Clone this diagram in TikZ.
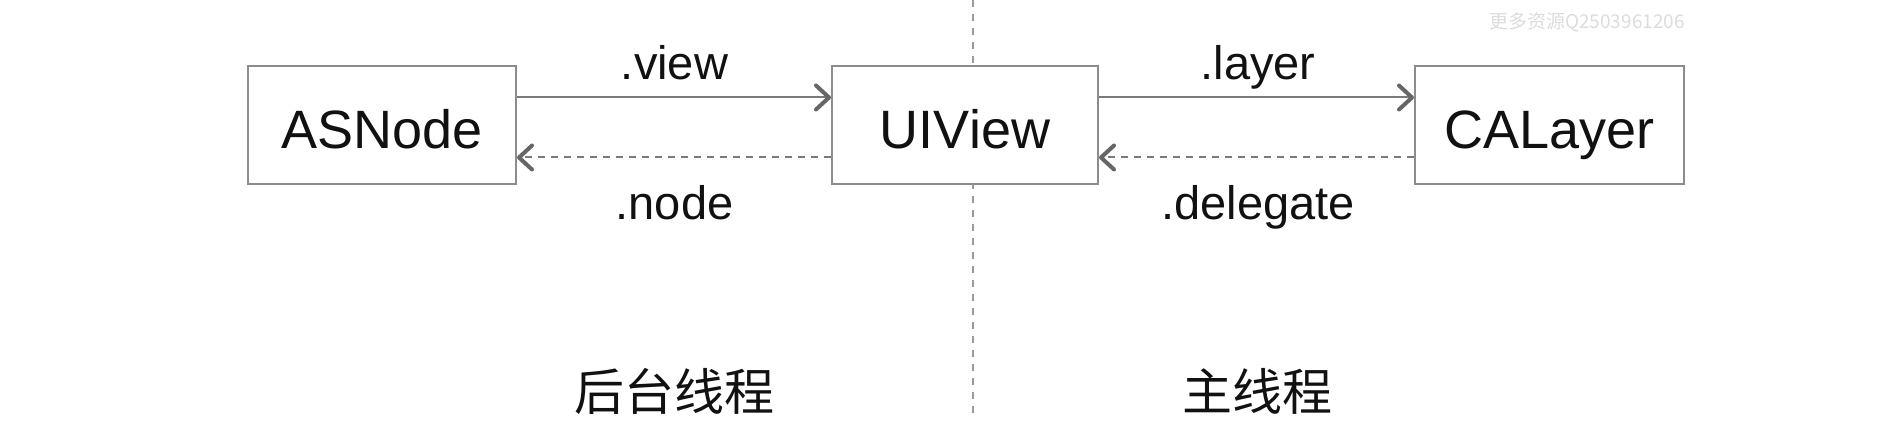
\documentclass[tikz,border=0pt]{standalone}
\usepackage{fontspec}
\setmainfont{Liberation Sans}
\newfontfamily\cjk{Noto Sans CJK SC}
\usetikzlibrary{arrows.meta}
\definecolor{boxgray}{HTML}{8C8C8C}
\definecolor{linegray}{HTML}{7A7A7A}
\definecolor{tipgray}{HTML}{666666}
\definecolor{divgray}{HTML}{9A9A9A}
\definecolor{wmgray}{HTML}{DCDCDC}
\definecolor{txt}{HTML}{111111}
\tikzset{
  objbox/.style={draw=boxgray, line width=2pt, fill=white, minimum height=118pt,
    inner sep=0pt, text=txt, font=\fontsize{54}{60}\selectfont,
    text height=47pt, text depth=0pt},
  reflabel/.style={text=txt, font=\fontsize{47}{52}\selectfont, inner sep=0pt, anchor=base},
  threadlabel/.style={text=txt, font=\cjk\fontsize{50}{56}\selectfont, inner sep=0pt},
  tiparrow/.style={-{Straight Barb[length=13pt, width=24pt, line width=4pt, round, color=tipgray]}},
  strongref/.style={tiparrow, draw=linegray, line width=2pt},
  weakref/.style={tiparrow, draw=linegray, line width=2pt, dash pattern=on 7pt off 6pt},
  divider/.style={draw=divgray, line width=2pt, dash pattern=on 7pt off 7pt}
}
\begin{document}
\begin{tikzpicture}[x=1pt, y=-1pt]
\useasboundingbox (0,0) rectangle (1898,435);
% divider between threads
\coordinate (vtop) at (973,0);
\coordinate (vbot) at (973,413);
\draw[divider] (vtop) -- (vbot);
% objects
\node[objbox, minimum width=268pt] (asn) at (382,125) {ASNode};
\node[objbox, minimum width=266pt] (uiv) at (965,125) {UIView};
\node[objbox, minimum width=269pt] (cal) at (1549.5,125) {CALayer};
% references
\draw[strongref] ([yshift=27.5pt]asn.east) -- ([yshift=27.5pt]uiv.west);
\draw[weakref] ([yshift=-32.5pt]uiv.west) -- ([yshift=-32.5pt]asn.east);
\draw[strongref] ([yshift=27.5pt]uiv.east) -- ([yshift=27.5pt]cal.west);
\draw[weakref] ([yshift=-32.5pt]cal.west) -- ([yshift=-32.5pt]uiv.east);
% labels
\node[reflabel] (lview) at (674.5,80) {.view};
\node[reflabel] (lnode) at (674.5,220) {.node};
\node[reflabel] (llayer) at (1258,80) {.layer};
\node[reflabel] (ldel) at (1258,220) {.delegate};
% thread names
\node[threadlabel] (bg) at (674,391) {后台线程};
\node[threadlabel] (mainth) at (1257,391) {主线程};
% watermark
\node[text=wmgray, font=\cjk\fontsize{19}{22}\selectfont, inner sep=0pt] (wm) at (1587,22) {更多资源Q2503961206};
\end{tikzpicture}
\end{document}
